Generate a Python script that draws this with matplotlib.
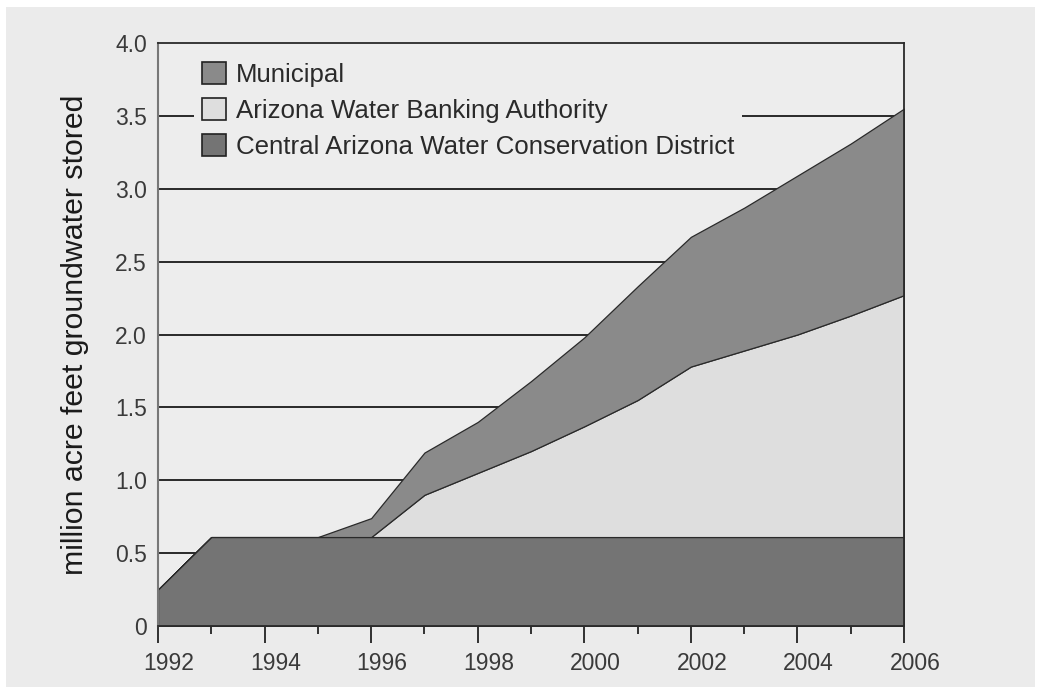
import numpy as np
import matplotlib
matplotlib.use("Agg")
import matplotlib.pyplot as plt
import matplotlib.transforms as mtransforms
from matplotlib.patches import Rectangle, Patch

plt.rcParams['font.family'] = ['Liberation Sans', 'DejaVu Sans']

years = np.arange(1992, 2007)
# cumulative tops of each stacked layer (million acre feet)
cawcd_top = [0.25, 0.61, 0.61, 0.61, 0.61, 0.61, 0.61, 0.61, 0.61, 0.61, 0.61, 0.61, 0.61, 0.61, 0.61]
awba_top = [0.25, 0.61, 0.61, 0.61, 0.61, 0.90, 1.05, 1.20, 1.37, 1.55, 1.78, 1.89, 2.00, 2.13, 2.27]
municipal_top = [0.25, 0.61, 0.61, 0.61, 0.74, 1.19, 1.40, 1.68, 1.98, 2.33, 2.67, 2.87, 3.09, 3.31, 3.55]

labels = ["Municipal", "Arizona Water Banking Authority", "Central Arizona Water Conservation District"]
colors = ["#8a8a8a", "#dedede", "#747474"]
y_ticks = [0, 0.5, 1.0, 1.5, 2.0, 2.5, 3.0, 3.5, 4.0]
y_tick_labels = ["0", "0.5", "1.0", "1.5", "2.0", "2.5", "3.0", "3.5", "4.0"]
x_ticks = [1992, 1994, 1996, 1998, 2000, 2002, 2004, 2006]

bg = "#ebebeb"
plot_bg = "#ededed"
edge = "#2a2a2a"

fig = plt.figure(figsize=(10.37, 6.87), dpi=100, facecolor="white")
fig.patches.append(Rectangle((6 / 1037, 0), 1 - 8 / 1037, 1 - 7 / 687,
                             transform=fig.transFigure, facecolor=bg,
                             edgecolor="none", zorder=-10))
ax = fig.add_axes([158 / 1037, 61 / 687, 746 / 1037, 583 / 687])
ax.set_facecolor(plot_bg)

for y in y_ticks[1:-1]:
    ax.axhline(y, color="#1a1a1a", lw=1.3, zorder=1)

ax.fill_between(years, 0, cawcd_top, facecolor=colors[2], edgecolor=edge, lw=0.9, zorder=3)
ax.fill_between(years, cawcd_top, awba_top, facecolor=colors[1], edgecolor=edge, lw=0.9, zorder=2)
ax.fill_between(years, awba_top, municipal_top, facecolor=colors[0], edgecolor=edge, lw=0.9, zorder=2)

ax.set_xlim(1992, 2006)
ax.set_ylim(0, 4.0)
ax.set_yticks(y_ticks)
ax.set_yticklabels(y_tick_labels)
ax.set_xticks(x_ticks)
ax.set_xticklabels([str(x) for x in x_ticks])
ax.set_xticks(np.arange(1993, 2006, 2), minor=True)
ax.tick_params(axis="y", length=0, pad=8, labelsize=16.5, labelcolor="#3a3a3a")
ax.tick_params(axis="x", which="major", length=12, width=1.3, color="#222222",
               pad=7, labelsize=16.5, labelcolor="#3a3a3a")
ax.tick_params(axis="x", which="minor", length=6, width=1.3, color="#222222")
offset = mtransforms.ScaledTranslation(11 / 100, 0, fig.dpi_scale_trans)
for lab in ax.get_xticklabels():
    lab.set_transform(lab.get_transform() + offset)

for s in ["top", "right", "bottom"]:
    ax.spines[s].set_color("#2a2a2a")
    ax.spines[s].set_linewidth(1.3)
ax.spines["left"].set_color("#777777")
ax.spines["left"].set_linewidth(1.5)
for s in ax.spines.values():
    s.set_zorder(5)

ax.set_ylabel("million acre feet groundwater stored", fontsize=21.8, color="#1a1a1a", labelpad=19)

handles = [Patch(facecolor=c, edgecolor="#222222", lw=1.2) for c in colors]
leg = ax.legend(handles, labels, loc="upper left", bbox_to_anchor=(0.048, 0.981),
                frameon=True, fontsize=18.6, handlelength=0.93, handleheight=0.93,
                handletextpad=0.39, labelspacing=0.44, borderpad=0.3, borderaxespad=0,
                labelcolor="#2a2a2a", fancybox=False)
leg.get_frame().set_facecolor(plot_bg)
leg.get_frame().set_edgecolor("none")
leg.get_frame().set_alpha(1)
leg.set_zorder(4)

fig.savefig("out.png", dpi=100, facecolor=fig.get_facecolor())
